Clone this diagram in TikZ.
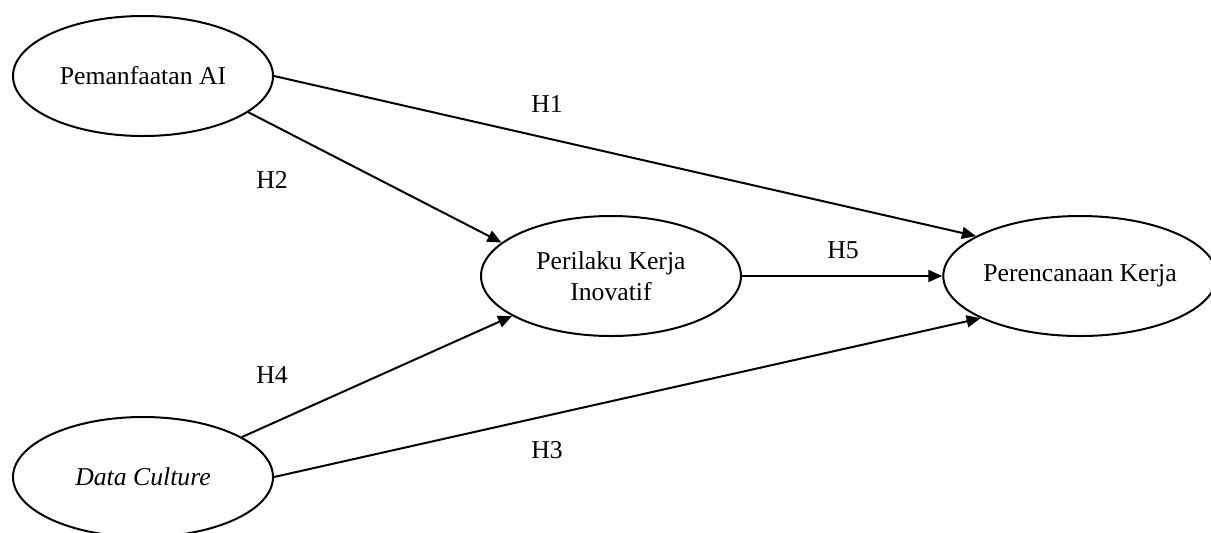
\documentclass[tikz,border=0pt]{standalone}
\usepackage{fontspec}
\setmainfont{Liberation Serif}
\usetikzlibrary{arrows.meta,shapes.geometric}
\begin{document}
\begin{tikzpicture}[x=0.5pt,y=-0.5pt,
  var/.style={draw, line width=1pt, ellipse, minimum width=130pt, minimum height=60pt, inner sep=0pt, align=center, font=\fontsize{12.85}{15.5}\selectfont},
  conn/.style={draw, line width=1pt, -{Triangle[length=7pt,width=6pt]}},
  lbl/.style={font=\fontsize{12.85}{15.5}\selectfont, inner sep=0pt}]
\useasboundingbox (0,0) rectangle (1211,532);
\node[var] (pa) at (143,76) {Pemanfaatan AI};
\node[var] (dc) at (143,477) {\textit{Data Culture}};
\node[var] (pi) at (611,276) {Perilaku Kerja\\Inovatif};
\node[var] (pk) at (1080,276) {Perencanaan Kerja};
\draw[conn] (pa.east) -- (pk.159);
\draw[conn] (pa.-19.4) -- (pi.163);
\draw[conn] (dc.22) -- (pi.202);
\draw[conn] (dc.east) -- (pk.203);
\draw[conn] (pi.east) -- (pk.west);
\node[lbl] (h1) at (547,104) {H1};
\node[lbl] (h2) at (272,180) {H2};
\node[lbl] (h4) at (272,375) {H4};
\node[lbl] (h3) at (547,450) {H3};
\node[lbl] (h5) at (843,250) {H5};
\end{tikzpicture}
\end{document}
